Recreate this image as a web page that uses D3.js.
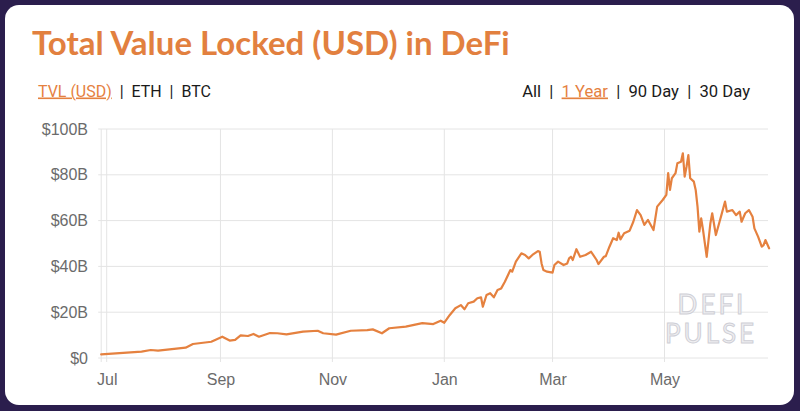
<!DOCTYPE html>
<html>
<head>
<meta charset="utf-8">
<script src="https://cdn.jsdelivr.net/npm/d3@7"></script>
<style>
  html, body { margin: 0; padding: 0; background: #2b1e4d; }
  svg { display: block; }
</style>
</head>
<body>
<svg id="chart" width="800" height="411"></svg>
<script>
// ---- data ----
const dates = [
  "2020-06-28","2020-07-20","2020-07-25","2020-07-29","2020-08-13","2020-08-17","2020-08-27",
  "2020-09-02","2020-09-06","2020-09-09","2020-09-12","2020-09-16","2020-09-19","2020-09-22",
  "2020-09-28","2020-10-02","2020-10-07","2020-10-16","2020-10-24","2020-10-27","2020-11-03",
  "2020-11-11","2020-11-20","2020-11-23","2020-11-28","2020-12-02","2020-12-11","2020-12-20",
  "2020-12-26","2020-12-30","2021-01-01","2021-01-04","2021-01-07","2021-01-10","2021-01-12",
  "2021-01-14","2021-01-17","2021-01-19","2021-01-21","2021-01-22","2021-01-24","2021-01-26",
  "2021-01-28","2021-01-30","2021-02-01","2021-02-03","2021-02-06","2021-02-07","2021-02-09",
  "2021-02-12","2021-02-14","2021-02-16","2021-02-18","2021-02-21","2021-02-22","2021-02-23",
  "2021-02-24","2021-02-26","2021-03-01","2021-03-02","2021-03-04","2021-03-07","2021-03-09",
  "2021-03-10","2021-03-11","2021-03-12","2021-03-14","2021-03-16","2021-03-19","2021-03-22",
  "2021-03-25","2021-03-26","2021-03-29","2021-03-30","2021-04-01","2021-04-03","2021-04-05",
  "2021-04-06","2021-04-07","2021-04-09","2021-04-12","2021-04-14","2021-04-16","2021-04-18",
  "2021-04-20","2021-04-22","2021-04-25","2021-04-27","2021-04-30","2021-05-02","2021-05-03",
  "2021-05-04","2021-05-05","2021-05-07","2021-05-08","2021-05-10","2021-05-11","2021-05-12",
  "2021-05-13","2021-05-14","2021-05-15","2021-05-17","2021-05-18","2021-05-19","2021-05-20",
  "2021-05-21","2021-05-22","2021-05-24","2021-05-25","2021-05-26","2021-05-27","2021-05-29",
  "2021-05-31","2021-06-01","2021-06-02","2021-06-03","2021-06-04","2021-06-07","2021-06-09",
  "2021-06-11","2021-06-12","2021-06-14","2021-06-16","2021-06-18","2021-06-19","2021-06-21",
  "2021-06-23","2021-06-24","2021-06-25","2021-06-27"
];
const tvlBillions = [
  1.6, 2.75, 3.5, 3.2, 4.5, 6.1, 7.1,
  9.3, 7.6, 7.9, 9.9, 9.6, 10.5, 9.3,
  10.9, 10.8, 10.3, 11.5, 11.9, 10.8, 10.2,
  11.9, 12.2, 12.5, 10.8, 13.0, 13.7, 15.2,
  14.8, 16.3, 15.4, 18.8, 21.7, 23.1, 21.3,
  23.9, 24.6, 26.1, 26.5, 22.4, 27.5, 28.3,
  26.5, 29.7, 30.4, 33.3, 38.4, 37.7, 42.1,
  45.7, 45.0, 43.5, 45.0, 46.7, 46.4, 41.3,
  38.4, 37.7, 37.3, 40.6, 42.1, 40.6, 41.3,
  43.5, 44.2, 42.8, 47.5, 44.2, 45.0, 46.4,
  42.8, 41.0, 44.2, 44.5, 48.6, 52.3, 51.5,
  54.7, 51.8, 54.5, 55.6, 59.5, 64.6, 62.4,
  58.1, 60.3, 55.9, 66.1, 69.0, 71.2, 80.7,
  73.4, 78.5, 80.7, 85.0, 85.7, 89.4, 79.2,
  83.5, 88.6, 78.5, 77.0, 73.4, 66.1, 55.2,
  61.0, 55.9, 44.2, 51.5, 58.8, 63.2, 53.7,
  59.5, 62.4, 65.4, 68.3, 63.9, 64.6, 62.4,
  63.9, 59.5, 63.2, 64.6, 61.7, 56.6, 53.0,
  48.6, 49.3, 51.5, 47.9
];
const yTicks = [0, 20, 40, 60, 80, 100];
const xTickDates = ["2020-07-01","2020-09-01","2020-11-01","2021-01-01","2021-03-01","2021-05-01"];
const titleText = "Total Value Locked (USD) in DeFi";
const leftLinks = ["TVL (USD)", "ETH", "BTC"];
const rightLinks = ["All", "1 Year", "90 Day", "30 Day"];
const activeLinks = ["TVL (USD)", "1 Year"];

// ---- drawing ----
const parse = d3.utcParse("%Y-%m-%d");
const data = dates.map((d, i) => ({ date: parse(d), value: tvlBillions[i] }));

const svg = d3.select("#chart");
const ORANGE = "#e5813f";

// card
svg.append("rect").attr("x", 5).attr("y", 5).attr("width", 789).attr("height", 400)
  .attr("rx", 14).attr("fill", "#ffffff");

// title
const title = svg.append("text").attr("x", 32).attr("y", 55)
  .attr("font-family", "Lato, 'Open Sans', sans-serif").attr("font-weight", 700)
  .attr("font-size", 30).attr("fill", "#e2803f").text(titleText);
const tw = title.node().getComputedTextLength();
title.attr("font-size", 30 * 478 / tw);

// link rows
function linkRow(items, x0, targetW, anchorRight) {
  const t = svg.append("text").attr("y", 96.5)
    .attr("font-family", "Roboto, 'Liberation Sans', sans-serif").attr("font-size", 15)
    .attr("fill", "#1a1a1a").attr("xml:space", "preserve");
  items.forEach((s, i) => {
    if (i > 0) t.append("tspan").text("  |  ");
    const active = activeLinks.includes(s);
    t.append("tspan").text(s)
      .attr("fill", active ? ORANGE : "#1a1a1a")
      .attr("text-decoration", active ? "underline" : null);
  });
  const w0 = t.node().getComputedTextLength();
  const fs = 15 * targetW / w0;
  t.attr("font-size", fs);
  const w = t.node().getComputedTextLength();
  t.attr("x", anchorRight ? x0 - w : x0);
  return t;
}
linkRow(leftLinks, 38, 173, false);
linkRow(rightLinks, 750, 228, true);

// scales
const x = d3.scaleUtc()
  .domain([parse("2020-07-01"), parse("2021-05-01")])
  .range([106.7, 664.5]);
const y = d3.scaleLinear().domain([0, 100]).range([358, 129]);
const plotLeft = x(data[0].date), plotRight = 768;

// grid
const grid = svg.append("g");
grid.selectAll("line.h").data(yTicks).join("line")
  .attr("x1", plotLeft - 3).attr("x2", plotRight)
  .attr("y1", d => y(d)).attr("y2", d => y(d))
  .attr("stroke", "#e4e4e4").attr("stroke-width", 1);
grid.append("line").attr("x1", plotLeft).attr("x2", plotLeft)
  .attr("y1", y(100)).attr("y2", y(0) + 4).attr("stroke", "#e4e4e4");
grid.selectAll("line.v").data(xTickDates.map(parse)).join("line")
  .attr("x1", d => x(d)).attr("x2", d => x(d))
  .attr("y1", y(100)).attr("y2", y(0) + 4)
  .attr("stroke", "#e4e4e4").attr("stroke-width", 1);

// axes (labels only)
const yAxis = d3.axisLeft(y).tickValues(yTicks).tickSize(0).tickPadding(0)
  .tickFormat(d => "$" + (d === 0 ? "0" : d + "B"));
const ya = svg.append("g").attr("transform", `translate(88,0)`).call(yAxis);
ya.select(".domain").remove();
ya.selectAll("text").attr("font-family", "'Liberation Sans', Arial, sans-serif")
  .attr("font-size", 16).attr("fill", "#6b6b6b");

const xAxis = d3.axisBottom(x).tickValues(xTickDates.map(parse)).tickSize(0).tickPadding(0)
  .tickFormat(d3.utcFormat("%b"));
const xa = svg.append("g").attr("transform", `translate(0,374)`).call(xAxis);
xa.select(".domain").remove();
xa.selectAll("text").attr("font-family", "'Liberation Sans', Arial, sans-serif")
  .attr("font-size", 16).attr("fill", "#6b6b6b");

// watermark
const wm = svg.append("g").attr("font-family", "Lato, 'Open Sans', sans-serif")
  .attr("font-weight", 400).attr("font-size", 26).attr("fill", "#efeff2")
  .attr("stroke", "#cfcfd6").attr("stroke-width", 1).attr("text-anchor", "middle")
  .attr("letter-spacing", 3);
wm.append("text").attr("x", 712).attr("y", 314).text("DEFI");
wm.append("text").attr("x", 711).attr("y", 343).text("PULSE");

// line
const line = d3.line().x(d => x(d.date)).y(d => y(d.value));
svg.append("path").datum(data).attr("d", line)
  .attr("fill", "none").attr("stroke", ORANGE).attr("stroke-width", 2.2)
  .attr("stroke-linejoin", "round").attr("stroke-linecap", "round");
</script>
</body>
</html>
